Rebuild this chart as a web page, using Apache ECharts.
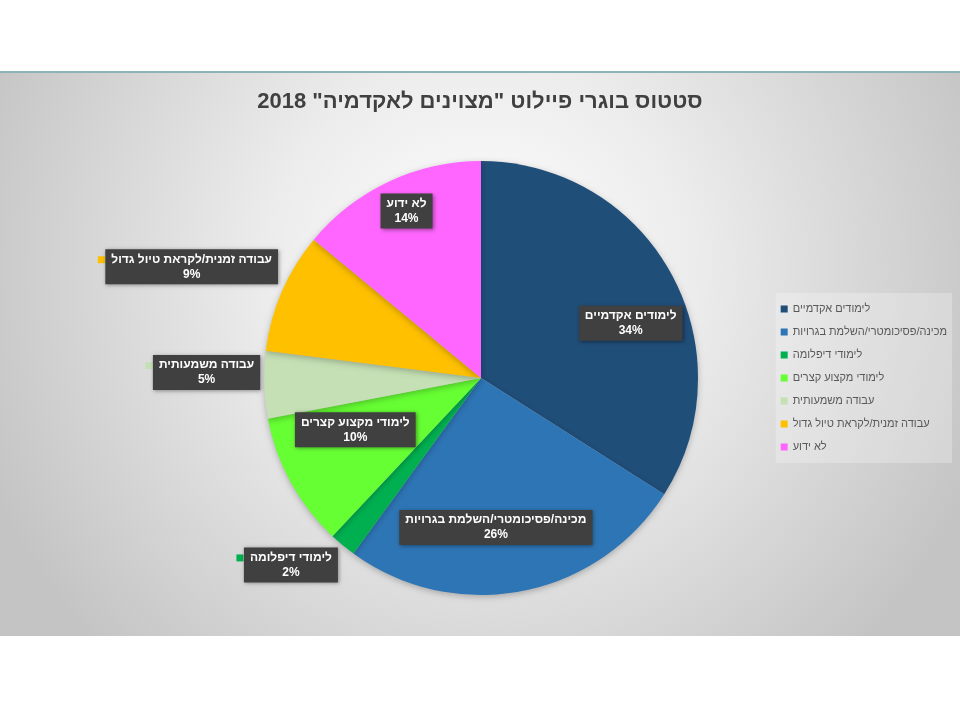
<!DOCTYPE html>
<html>
<head>
<meta charset="utf-8">
<title>סטטוס בוגרי פיילוט</title>
<script src="https://cdn.jsdelivr.net/npm/echarts@6/dist/echarts.min.js"></script>
<style>
    html, body { margin: 0; padding: 0; background: #ffffff; }
    #main { width: 960px; height: 720px; }
</style>
</head>
<body>
<div id="main"></div>
<script>
// 类别 (按顺时针, 从12点开始)
var categories = [
    "לימודים אקדמיים",
    "מכינה/פסיכומטרי/השלמת בגרויות",
    "לימודי דיפלומה",
    "לימודי מקצוע קצרים",
    "עבודה משמעותית",
    "עבודה זמנית/לקראת טיול גדול",
    "לא ידוע"
];
// 百分比
var values = [34, 26, 2, 10, 5, 9, 14];
var titleText = 'סטטוס בוגרי פיילוט "מצוינים לאקדמיה" 2018';

var colors = ["#1f4e79", "#2e75b6", "#00b050", "#66ff33", "#c5e0b4", "#ffc000", "#ff66ff"];
// label shift from the default "inside" spot (Excel best fit)
var labelShift = [[52, -1], [-6, 40], [-119, 101], [-28, -2], [-163, -9], [-187, -67], [-27, -66]];
// labels sitting outside the pie get a small legend key
var showKey = [false, false, true, false, true, true, false];

var labelFont = "bold 12px Arial, 'Liberation Sans', sans-serif";
var measureCtx = document.createElement("canvas").getContext("2d");
measureCtx.font = labelFont;

var myChart = echarts.init(document.getElementById("main"));

var pieData = categories.map(function (name, i) {
    return {
        name: name,
        value: values[i],
        itemStyle: { color: colors[i] },
        label: { offset: labelShift[i] }
    };
});

// 透明的第二层, 只用来画标签左边的小方块
var keyData = categories.map(function (name, i) {
    var boxW = measureCtx.measureText(name).width + 12;
    return {
        name: name,
        value: values[i],
        label: {
            show: showKey[i],
            offset: [labelShift[i][0] - boxW / 2 - 4, labelShift[i][1] - 17 + 10],
            backgroundColor: colors[i]
        }
    };
});

var option = {
    animation: false,
    //背景
    graphic: [
        {
            type: "rect",
            z: -10,
            shape: { x: 0, y: 72, width: 960, height: 564 },
            style: {
                fill: new echarts.graphic.RadialGradient(0.5, 0.35, 0.95, [
                    { offset: 0, color: "#ffffff" },
                    { offset: 0.4, color: "#ececec" },
                    { offset: 0.7, color: "#d8d8d8" },
                    { offset: 1, color: "#c4c4c4" }
                ])
            }
        },
        {
            type: "rect",
            z: -9,
            shape: { x: 0, y: 71, width: 960, height: 2 },
            style: { fill: "#8db3b7" }
        }
    ],
    //标题
    title: {
        text: titleText,
        left: "center",
        top: 86,
        textStyle: {
            fontFamily: "Arial, 'Liberation Sans', sans-serif",
            fontSize: 22,
            fontWeight: "bold",
            color: "#404040"
        }
    },
    //图例
    legend: {
        orient: "vertical",
        right: 8,
        top: 293,
        padding: [9, 5, 9, 5],
        itemGap: 9,
        itemWidth: 7,
        itemHeight: 7,
        icon: "rect",
        backgroundColor: "rgba(255,255,255,0.25)",
        data: categories,
        textStyle: {
            fontFamily: "Arial, 'Liberation Sans', sans-serif",
            fontSize: 11,
            color: "#595959",
            lineHeight: 14
        }
    },
    series: [
        {
            type: "pie",
            center: [481, 378],
            radius: 217,
            startAngle: 90,
            clockwise: true,
            avoidLabelOverlap: false,
            itemStyle: {
                shadowBlur: 6,
                shadowColor: "rgba(0,0,0,0.25)",
                shadowOffsetY: 2
            },
            label: {
                show: true,
                position: "inside",
                formatter: "{b}\n{c}%",
                fontFamily: "Arial, 'Liberation Sans', sans-serif",
                fontSize: 12,
                fontWeight: "bold",
                color: "#ffffff",
                lineHeight: 15,
                align: "center",
                backgroundColor: "#404040",
                padding: [3, 6, 2, 6],
                shadowBlur: 4,
                shadowColor: "rgba(0,0,0,0.4)",
                shadowOffsetX: 1,
                shadowOffsetY: 1
            },
            labelLine: { show: false },
            emphasis: { disabled: true },
            data: pieData
        },
        {
            type: "pie",
            center: [481, 378],
            radius: 217,
            startAngle: 90,
            clockwise: true,
            silent: true,
            z: 1,
            avoidLabelOverlap: false,
            itemStyle: { color: "rgba(0,0,0,0)" },
            label: {
                position: "inside",
                formatter: "",
                width: 7,
                height: 7,
                padding: 0
            },
            labelLine: { show: false },
            emphasis: { disabled: true },
            data: keyData
        }
    ]
};

myChart.setOption(option);
</script>
</body>
</html>
